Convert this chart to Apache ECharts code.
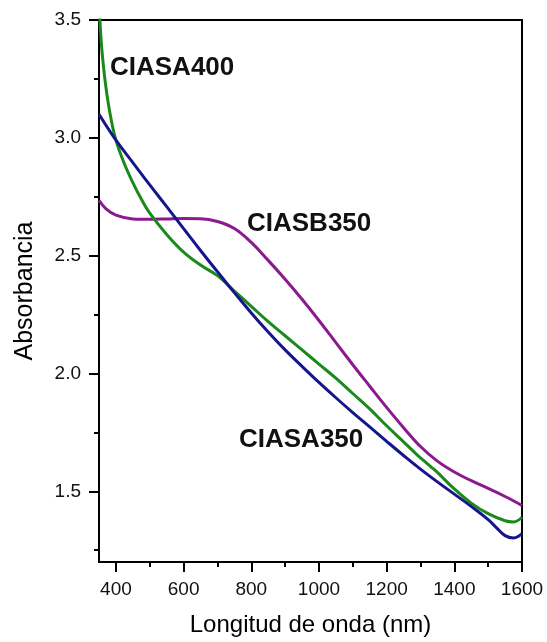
<!DOCTYPE html>
<html>
<head>
<meta charset="utf-8">
<script src="https://cdn.jsdelivr.net/npm/echarts@6/dist/echarts.min.js"></script>
<style>
  html, body { margin: 0; padding: 0; background: #fff; }
  #chart { width: 547px; height: 642px; }
</style>
</head>
<body>
<div id="chart"></div>
<script>
// Absorbance spectra of three samples (wavelength in nm, absorbance)
const ciasa350Nm  = [350, 400, 450, 500, 550, 600, 650, 700, 750, 800, 850, 900, 950, 1000, 1050, 1100, 1150, 1200, 1250, 1300, 1350, 1400, 1450, 1500, 1525, 1550, 1575, 1600];
const ciasa350Abs = [3.10, 2.99, 2.895, 2.80, 2.708, 2.615, 2.522, 2.432, 2.343, 2.257, 2.176, 2.10, 2.03, 1.962, 1.897, 1.834, 1.773, 1.712, 1.652, 1.594, 1.54, 1.488, 1.436, 1.38, 1.345, 1.312, 1.302, 1.32];

const ciasa400Nm  = [350, 356, 362, 370, 383, 400, 425, 450, 475, 500, 550, 600, 650, 700, 750, 800, 850, 900, 950, 1000, 1050, 1100, 1150, 1200, 1250, 1290, 1310, 1330, 1350, 1400, 1450, 1500, 1550, 1575, 1600];
const ciasa400Abs = [3.58, 3.42, 3.32, 3.22, 3.10, 2.99, 2.89, 2.81, 2.74, 2.68, 2.59, 2.515, 2.46, 2.415, 2.35, 2.285, 2.22, 2.16, 2.10, 2.04, 1.98, 1.915, 1.85, 1.778, 1.71, 1.655, 1.630, 1.605, 1.58, 1.51, 1.45, 1.405, 1.375, 1.37, 1.39];

const ciasb350Nm  = [350, 370, 400, 450, 500, 550, 600, 650, 700, 750, 800, 850, 900, 950, 1000, 1050, 1100, 1150, 1200, 1250, 1300, 1350, 1400, 1450, 1500, 1550, 1600];
const ciasb350Abs = [2.735, 2.70, 2.672, 2.656, 2.654, 2.656, 2.658, 2.657, 2.645, 2.615, 2.556, 2.48, 2.40, 2.315, 2.225, 2.131, 2.037, 1.946, 1.856, 1.77, 1.69, 1.628, 1.582, 1.545, 1.512, 1.478, 1.44];

// Axis ticks
const xMajorTicks = [400, 600, 800, 1000, 1200, 1400, 1600];
const xMinorTicks = [500, 700, 900, 1100, 1300, 1500];
const yMajorTicks = [1.5, 2.0, 2.5, 3.0, 3.5];
const yMinorTicks = [1.25, 1.75, 2.25, 2.75, 3.25];

const zip = (xs, ys) => xs.map((x, i) => [x, ys[i]]);
const FONT = 'Liberation Sans, Arial, sans-serif';

const chart = echarts.init(document.getElementById('chart'), null, { renderer: 'canvas' });

const baseX = {
  type: 'value', min: 350, max: 1600, position: 'bottom',
  splitLine: { show: false },
  axisLine: { onZero: false, lineStyle: { color: '#000', width: 2 } }
};
const baseY = {
  type: 'value', min: 1.2, max: 3.5, position: 'left',
  splitLine: { show: false },
  axisLine: { onZero: false, lineStyle: { color: '#000', width: 2 } }
};

function lineSeries(name, data, color) {
  return {
    name, type: 'line', data, xAxisIndex: 0, yAxisIndex: 0,
    showSymbol: false, smooth: 0.4, clip: true,
    lineStyle: { color, width: 3 }
  };
}

chart.setOption({
  animation: false,
  backgroundColor: '#fff',
  grid: {
    left: 99, right: 25, top: 20, bottom: 80,
    show: true, borderColor: '#000', borderWidth: 2, backgroundColor: 'transparent'
  },
  xAxis: [
    Object.assign({}, baseX, {
      name: 'Longitud de onda (nm)', nameLocation: 'middle', nameGap: 51,
      nameTextStyle: { fontFamily: FONT, fontSize: 24, color: '#000' },
      axisTick: { show: true, inside: false, length: 10, customValues: xMajorTicks, lineStyle: { color: '#000', width: 2 } },
      axisLabel: { show: true, margin: 18, customValues: xMajorTicks, fontFamily: FONT, fontSize: 19, color: '#111',
        formatter: v => String(v) }
    }),
    Object.assign({}, baseX, {
      axisTick: { show: true, inside: false, length: 5, customValues: xMinorTicks, lineStyle: { color: '#000', width: 2 } },
      axisLabel: { show: false }
    })
  ],
  yAxis: [
    Object.assign({}, baseY, {
      name: 'Absorbancia', nameLocation: 'middle', nameGap: 61, nameRotate: 90,
      nameTextStyle: { fontFamily: FONT, fontSize: 25, color: '#000' },
      axisTick: { show: true, inside: false, length: 10, customValues: yMajorTicks, lineStyle: { color: '#000', width: 2 } },
      axisLabel: { show: true, margin: 18, customValues: yMajorTicks, fontFamily: FONT, fontSize: 19, color: '#111',
        formatter: v => v.toFixed(1) }
    }),
    Object.assign({}, baseY, {
      axisTick: { show: true, inside: false, length: 5, customValues: yMinorTicks, lineStyle: { color: '#000', width: 2 } },
      axisLabel: { show: false }
    })
  ],
  series: [
    lineSeries('CIASB350', zip(ciasb350Nm, ciasb350Abs), '#8a1a8e'),
    lineSeries('CIASA400', zip(ciasa400Nm, ciasa400Abs), '#1a8a1a'),
    lineSeries('CIASA350', zip(ciasa350Nm, ciasa350Abs), '#16168c')
  ],
  graphic: [
    { type: 'text', left: 110, top: 55, style: { text: 'CIASA400', font: 'bold 26px ' + FONT, fill: '#111' } },
    { type: 'text', left: 247, top: 211, style: { text: 'CIASB350', font: 'bold 26px ' + FONT, fill: '#111' } },
    { type: 'text', left: 239, top: 427, style: { text: 'CIASA350', font: 'bold 26px ' + FONT, fill: '#111' } }
  ]
});
</script>
</body>
</html>
